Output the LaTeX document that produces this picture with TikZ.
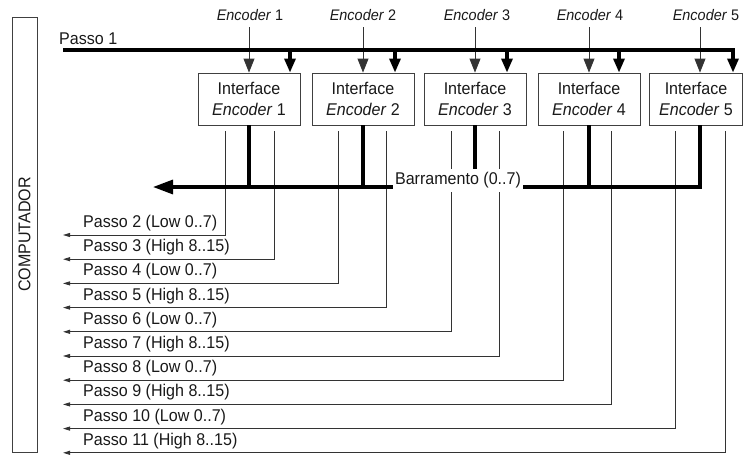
\documentclass[tikz,border=0pt]{standalone}
\usepackage{fontspec}
\setmainfont{Liberation Sans}[FakeStretch=0.945]
\usetikzlibrary{arrows.meta}
\begin{document}
\begin{tikzpicture}[x=1pt,y=-1pt,
  every node/.style={font=\fontsize{17}{21}\selectfont, text=black!90},
  thinln/.style={line width=0.9pt, draw=black!80},
  thickln/.style={line width=3.2pt, draw=black, line join=miter},
  bigtip/.style={-{Triangle[length=14pt,width=11pt]}},
  smalltip/.style={-{Triangle[length=7pt,width=4pt]}},
  ifbox/.style={draw=black!75, line width=0.9pt, minimum height=52pt, align=center, inner sep=0pt},
  enclbl/.style={font=\fontsize{15.3}{17}\selectfont, inner sep=0pt},
  plbl/.style={anchor=base west, inner sep=0pt},
  buslbl/.style={anchor=base, fill=white, inner xsep=2pt, inner ysep=4pt, text height=12pt, text depth=3.5pt}
]
\useasboundingbox (0,0) rectangle (744,455);

% computer
\node[draw=black!75, line width=0.9pt, rotate=90, minimum width=435pt, minimum height=25pt, inner sep=0pt] (comp) at (24.5,234.5) {COMPUTADOR};

% encoder labels
\node[enclbl] (e1) at (250,15) {\textit{Encoder} 1};
\node[enclbl] (e2) at (363,15) {\textit{Encoder} 2};
\node[enclbl] (e3) at (477,15) {\textit{Encoder} 3};
\node[enclbl] (e4) at (590,15) {\textit{Encoder} 4};
\node[enclbl] (e5) at (706,15) {\textit{Encoder} 5};

% interface boxes
\node[ifbox, minimum width=102pt] (if1) at (249,99) {Interface\\\textit{Encoder} 1};
\node[ifbox, minimum width=102pt] (if2) at (363,99) {Interface\\\textit{Encoder} 2};
\node[ifbox, minimum width=102pt] (if3) at (475,99) {Interface\\\textit{Encoder} 3};
\node[ifbox, minimum width=102pt] (if4) at (589,99) {Interface\\\textit{Encoder} 4};
\node[ifbox, minimum width=93.5pt] (if5) at (696,99) {Interface\\\textit{Encoder} 5};

% encoder arrows
\coordinate (a1) at (249,27);
\coordinate (a2) at (363,27);
\coordinate (a3) at (475,27);
\coordinate (a4) at (589,27);
\coordinate (a5) at (700,27);
\foreach \i in {1,...,5}
  \draw[thinln, bigtip] (a\i) -- (a\i |- if\i.north);

% Passo 1 line
\node[plbl] (lp1) at (59,44.5) {Passo 1};
\coordinate (p1L) at (63,50);
\coordinate (t1) at (290,50);
\coordinate (t2) at (395,50);
\coordinate (t3) at (507,50);
\coordinate (t4) at (619,50);
\coordinate (t5) at (733,50);
\draw[thickln, bigtip] (p1L) -- (t5) -- (t5 |- if5.north);
\foreach \i in {1,...,4}
  \draw[thickln, bigtip] (t\i) -- (t\i |- if\i.north);

% output lines
\coordinate (v2) at (225,131);  \coordinate (o2) at (63,235);
\coordinate (v3) at (274,131);  \coordinate (o3) at (63,259.2);
\coordinate (v4) at (338,131);  \coordinate (o4) at (63,283.4);
\coordinate (v5) at (386,131);  \coordinate (o5) at (63,307.6);
\coordinate (v6) at (451,131);  \coordinate (o6) at (63,331.8);
\coordinate (v7) at (499,131);  \coordinate (o7) at (63,356);
\coordinate (v8) at (563,131);  \coordinate (o8) at (63,380.2);
\coordinate (v9) at (611,131);  \coordinate (o9) at (63,404.4);
\coordinate (v10) at (675,131); \coordinate (o10) at (63,428.6);
\coordinate (v11) at (725,131); \coordinate (o11) at (63,452.8);
\foreach \i in {2,...,11}
  \draw[thinln, smalltip] (v\i) |- (o\i);

\node[plbl] (l2) at (83,227.5) {Passo 2 (Low 0..7)};
\node[plbl] (l3) at (83,251.7) {Passo 3 (High 8..15)};
\node[plbl] (l4) at (83,275.9) {Passo 4 (Low 0..7)};
\node[plbl] (l5) at (83,300.1) {Passo 5 (High 8..15)};
\node[plbl] (l6) at (83,324.3) {Passo 6 (Low 0..7)};
\node[plbl] (l7) at (83,348.5) {Passo 7 (High 8..15)};
\node[plbl] (l8) at (83,372.7) {Passo 8 (Low 0..7)};
\node[plbl] (l9) at (83,396.9) {Passo 9 (High 8..15)};
\node[plbl] (l10) at (83,421.1) {Passo 10 (Low 0..7)};
\node[plbl] (l11) at (83,445.3) {Passo 11 (High 8..15)};

% bus
\coordinate (busL) at (153,187);
\coordinate (busR) at (700,187);
\draw[thickln, -{Triangle[length=20pt,width=14pt]}] (if5.south -| busR) -- (busR) -- (busL);
\foreach \i in {1,...,4}
  \draw[thickln] (if\i.south) -- (if\i.south |- busL);
\node[buslbl] (bus) at (458,184.5) {Barramento (0..7)};
\end{tikzpicture}
\end{document}
